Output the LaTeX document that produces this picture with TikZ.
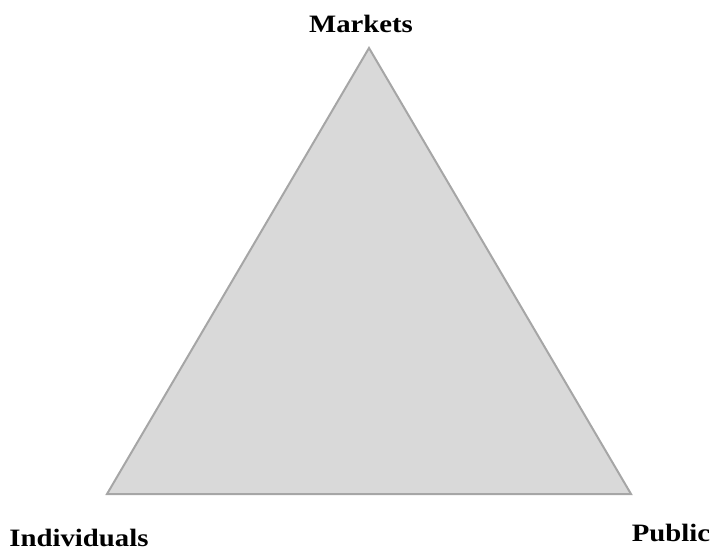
\documentclass[tikz,border=0pt]{standalone}
\usepackage{fontspec}
\setmainfont{Liberation Serif}
\usepackage{graphicx}
\usepackage{tikz}
\usetikzlibrary{positioning}
\definecolor{areagray}{HTML}{D9D9D9}
\definecolor{edgegray}{HTML}{A6A6A6}
\newcommand{\widetext}[1]{\scalebox{1.15}[1]{#1}}
\tikzset{
corner/.style={font=\bfseries\fontsize{25}{30}\selectfont, anchor=base, inner sep=0pt},
area/.style={fill=areagray, draw=edgegray, line width=2pt, line join=miter},
}
\begin{document}
\begin{tikzpicture}[x=1pt,y=-1pt]
            \useasboundingbox (0,0) rectangle (714,550);
            \coordinate (top) at (369,48);
            \coordinate (left) at (107,494);
            \coordinate (right) at (631,494);
            \draw[area] (top) -- (left) -- (right) -- cycle;
            \node[corner] (markets) at (361,32) {\widetext{Markets}};
            \node[corner] (individuals) at (79,546) {\widetext{Individuals}};
            \node[corner] (public) at (671,541) {\widetext{Public}};
        \end{tikzpicture}
\end{document}
